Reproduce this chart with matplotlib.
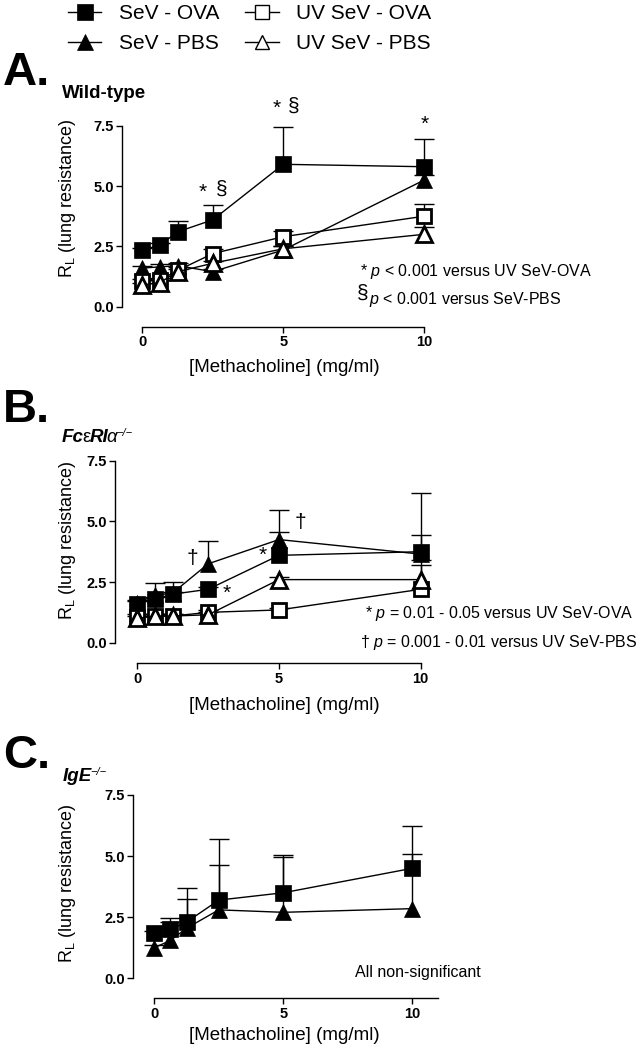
import matplotlib
matplotlib.use('Agg')
import matplotlib.pyplot as plt
import matplotlib as mpl
from matplotlib.lines import Line2D
from matplotlib.ticker import FormatStrFormatter

mpl.rcParams['font.family'] = 'Liberation Sans'
mpl.rcParams['mathtext.fontset'] = 'custom'
mpl.rcParams['mathtext.rm'] = 'Liberation Sans'
mpl.rcParams['mathtext.it'] = 'Liberation Sans:italic'
mpl.rcParams['mathtext.bf'] = 'Liberation Sans:bold'

# methacholine doses (mg/ml)
dose = [0, 0.625, 1.25, 2.5, 5, 10]

# A. wild-type
wt_sev_ova = [2.35, 2.55, 3.1, 3.6, 5.9, 5.8]
wt_sev_ova_sem = [0.1, 0.1, 0.45, 0.6, 1.55, 1.15]
wt_sev_pbs = [1.6, 1.65, 1.7, 1.45, 2.35, 5.25]
wt_sev_pbs_sem = [0.1, 0.1, 0.1, 0.1, 0.15, 0.2]
wt_uv_ova = [1.05, 1.1, 1.5, 2.2, 2.9, 3.75]
wt_uv_ova_sem = [0.1, 0.1, 0.15, 0.2, 0.25, 0.5]
wt_uv_pbs = [0.9, 1.0, 1.45, 1.8, 2.4, 3.0]
wt_uv_pbs_sem = [0.1, 0.1, 0.1, 0.1, 0.1, 0.3]

# B. FceRIa-/-
fc_sev_ova = [1.6, 1.8, 2.0, 2.2, 3.6, 3.75]
fc_sev_ova_sem = [0.1, 0.1, 0.1, 0.1, 0.95, 0.7]
fc_sev_pbs = [1.65, 1.95, 2.05, 3.25, 4.25, 3.65]
fc_sev_pbs_sem = [0.1, 0.5, 0.45, 0.95, 1.2, 2.5]
fc_uv_ova = [1.07, 1.1, 1.1, 1.25, 1.35, 2.2]
fc_uv_ova_sem = [0.1, 0.1, 0.1, 0.1, 0.1, 1.0]
fc_uv_pbs = [1.0, 1.1, 1.1, 1.15, 2.6, 2.6]
fc_uv_pbs_sem = [0.1, 0.1, 0.1, 0.1, 0.1, 0.8]

# C. IgE-/-
ige_sev_ova = [1.85, 2.0, 2.3, 3.2, 3.5, 4.5]
ige_sev_ova_sem = [0.1, 0.45, 1.4, 2.5, 1.55, 1.75]
ige_sev_pbs = [1.25, 1.55, 2.05, 2.8, 2.7, 2.85]
ige_sev_pbs_sem = [0.1, 0.77, 1.18, 1.85, 2.28, 2.22]

W, H = 636, 1048
fig = plt.figure(figsize=(W / 100, H / 100), dpi=100)

STYLE = {
    'SeV - OVA': dict(marker='s', mfc='black', ms=11.5, mew=0.5),
    'SeV - PBS': dict(marker='^', mfc='black', ms=12, mew=0.5),
    'UV SeV - OVA': dict(marker='s', mfc='white', ms=10.5, mew=2.0),
    'UV SeV - PBS': dict(marker='^', mfc='white', ms=11, mew=2.0),
}


def make_panel(spine_x, x0, x10, y0, y75, xaxis_y, xspine_end):
    sx = (x10 - x0) / 10.0
    sy = (y0 - y75) / 7.5
    xmin, xmax = (spine_x - x0) / sx, 12.5
    ymin, ymax = -2.2, 8.8
    left, right = spine_x, x0 + xmax * sx
    top, bottom = y0 - ymax * sy, y0 - ymin * sy
    ax = fig.add_axes([left / W, 1 - bottom / H, (right - left) / W, (bottom - top) / H])
    ax.set_xlim(xmin, xmax)
    ax.set_ylim(ymin, ymax)
    ax.patch.set_visible(False)
    ax.spines['top'].set_visible(False)
    ax.spines['right'].set_visible(False)
    ax.spines['left'].set_bounds(0, 7.5)
    ax.spines['bottom'].set_position(('data', -(xaxis_y - y0) / sy))
    ax.spines['bottom'].set_bounds(0, xspine_end)
    for s in ('left', 'bottom'):
        ax.spines[s].set_linewidth(1.0)
    ax.set_yticks([0, 2.5, 5.0, 7.5])
    ax.set_xticks([0, 5, 10])
    ax.yaxis.set_major_formatter(FormatStrFormatter('%.1f'))
    ax.tick_params(direction='out', length=4, width=1.0, labelsize=10.5, pad=2)
    for lab in ax.get_xticklabels() + ax.get_yticklabels():
        lab.set_fontweight('bold')
    return ax


def draw_series(ax, y, sem, name):
    st = STYLE[name]
    eb = ax.errorbar(dose, y, yerr=[[0] * len(sem), sem], fmt='none', ecolor='black',
                     elinewidth=1.0, capsize=7, capthick=1.0, clip_on=False, zorder=2)
    eb[1][0].set_visible(False)
    ax.plot(dose, y, color='black', lw=1.0, marker=st['marker'], ms=st['ms'],
            mfc=st['mfc'], mec='black', mew=st['mew'], clip_on=False, zorder=3)


def ylabel(yc):
    fig.text(68 / W, 1 - yc / H, r'R$_{\mathrm{L}}$ (lung resistance)', rotation=90,
             ha='center', va='center', fontsize=13)


def xlabel(yc):
    fig.text(284 / W, 1 - yc / H, '[Methacholine] (mg/ml)', ha='center', va='center', fontsize=13.5)


def chain_text(x, y, pieces):
    t = fig.text(x / W, 1 - y / H, pieces[0][0], va='baseline', **pieces[0][1])
    for s, props, dx, dy in pieces[1:]:
        t = fig.axes[0].annotate(s, xy=(1, 0), xycoords=t, xytext=(dx, dy), textcoords='offset points',
                                 ha='left', va='bottom', annotation_clip=False, **props)
    return t


bi = dict(fontsize=13.5, fontweight='bold', fontstyle='italic')

# ---- A
axA = make_panel(122, 142.3, 424.3, 306.7, 125.7, 326.7, 10)
draw_series(axA, wt_sev_pbs, wt_sev_pbs_sem, 'SeV - PBS')
draw_series(axA, wt_sev_ova, wt_sev_ova_sem, 'SeV - OVA')
draw_series(axA, wt_uv_ova, wt_uv_ova_sem, 'UV SeV - OVA')
draw_series(axA, wt_uv_pbs, wt_uv_pbs_sem, 'UV SeV - PBS')
for xx, yy, s in [(2.15, 4.75, '*'), (2.8, 4.85, '§'), (4.75, 8.2, '*'), (5.35, 8.3, '§'), (10, 7.55, '*')]:
    axA.text(xx, yy, s, ha='center', va='center', fontsize=15, clip_on=False)
axA.text(7.72, 1.44, r'* $\mathit{p}$ < 0.001 versus UV SeV-OVA', va='center', fontsize=11.5)
axA.text(7.62, 0.55, '§', va='center', fontsize=15)
axA.text(8.05, 0.3, r'$\mathit{p}$ < 0.001 versus SeV-PBS', va='center', fontsize=11.5)
fig.text(3 / W, 1 - 85 / H, 'A.', fontsize=34, fontweight='bold', va='baseline')
fig.text(62 / W, 1 - 98 / H, 'Wild-type', fontsize=13.5, fontweight='bold', va='baseline')
ylabel(198)
xlabel(368)

# ---- B
axB = make_panel(115.5, 137.3, 420.7, 642.7, 460.7, 663.3, 10)
draw_series(axB, fc_sev_pbs, fc_sev_pbs_sem, 'SeV - PBS')
draw_series(axB, fc_sev_ova, fc_sev_ova_sem, 'SeV - OVA')
draw_series(axB, fc_uv_ova, fc_uv_ova_sem, 'UV SeV - OVA')
draw_series(axB, fc_uv_pbs, fc_uv_pbs_sem, 'UV SeV - PBS')
for xx, yy, s in [(1.93, 3.45, '†'), (4.43, 3.6, '*'), (3.16, 2.05, '*'), (5.74, 4.95, '†')]:
    axB.text(xx, yy, s, ha='center', va='center', fontsize=15, clip_on=False)
axB.text(8.03, 1.22, r'* $\mathit{p}$ = 0.01 - 0.05 versus UV SeV-OVA', va='center', fontsize=11.5)
axB.text(7.86, 0.0, r'† $\mathit{p}$ = 0.001 - 0.01 versus UV SeV-PBS', va='center', fontsize=11.5)
fig.text(3 / W, 1 - 422 / H, 'B.', fontsize=34, fontweight='bold', va='baseline')
chain_text(62, 442, [('Fc', bi), ('ε', dict(fontsize=13.5), -1, 0), ('RI', bi, -1, 0),
                     ('α', dict(fontsize=13.5, fontstyle='italic'), -1, 0),
                     ('−/−', dict(fontsize=8, fontstyle='italic'), -1, 6)])
ylabel(540)
xlabel(706)

# ---- C
axC = make_panel(133.3, 154.3, 412.3, 978.3, 795, 998.3, 11)
draw_series(axC, ige_sev_pbs, ige_sev_pbs_sem, 'SeV - PBS')
draw_series(axC, ige_sev_ova, ige_sev_ova_sem, 'SeV - OVA')
axC.text(7.78, 0.22, 'All non-significant', va='center', fontsize=11.5)
fig.text(3 / W, 1 - 768 / H, 'C.', fontsize=34, fontweight='bold', va='baseline')
chain_text(63, 781, [('IgE', bi), ('−/−', dict(fontsize=8, fontstyle='italic'), -1.5, 6)])
ylabel(883)
xlabel(1036)

# ---- legend
names = ['SeV - OVA', 'SeV - PBS', 'UV SeV - OVA', 'UV SeV - PBS']
handles = [Line2D([], [], color='black', lw=1.0, marker=STYLE[n]['marker'], ms=STYLE[n]['ms'] - 0.5,
                  mfc=STYLE[n]['mfc'], mec='black', mew=1.0 if STYLE[n]['mfc'] == 'white' else 0.5)
           for n in names]
fig.legend(handles, names, ncol=2, loc='upper left', bbox_to_anchor=(68 / W, 1 - 4 / H),
           frameon=False, fontsize=15, handlelength=1.6, handletextpad=0.85, columnspacing=1.25,
           labelspacing=0.55, borderpad=0.0, borderaxespad=0.0)

fig.savefig('out.png', dpi=100)
